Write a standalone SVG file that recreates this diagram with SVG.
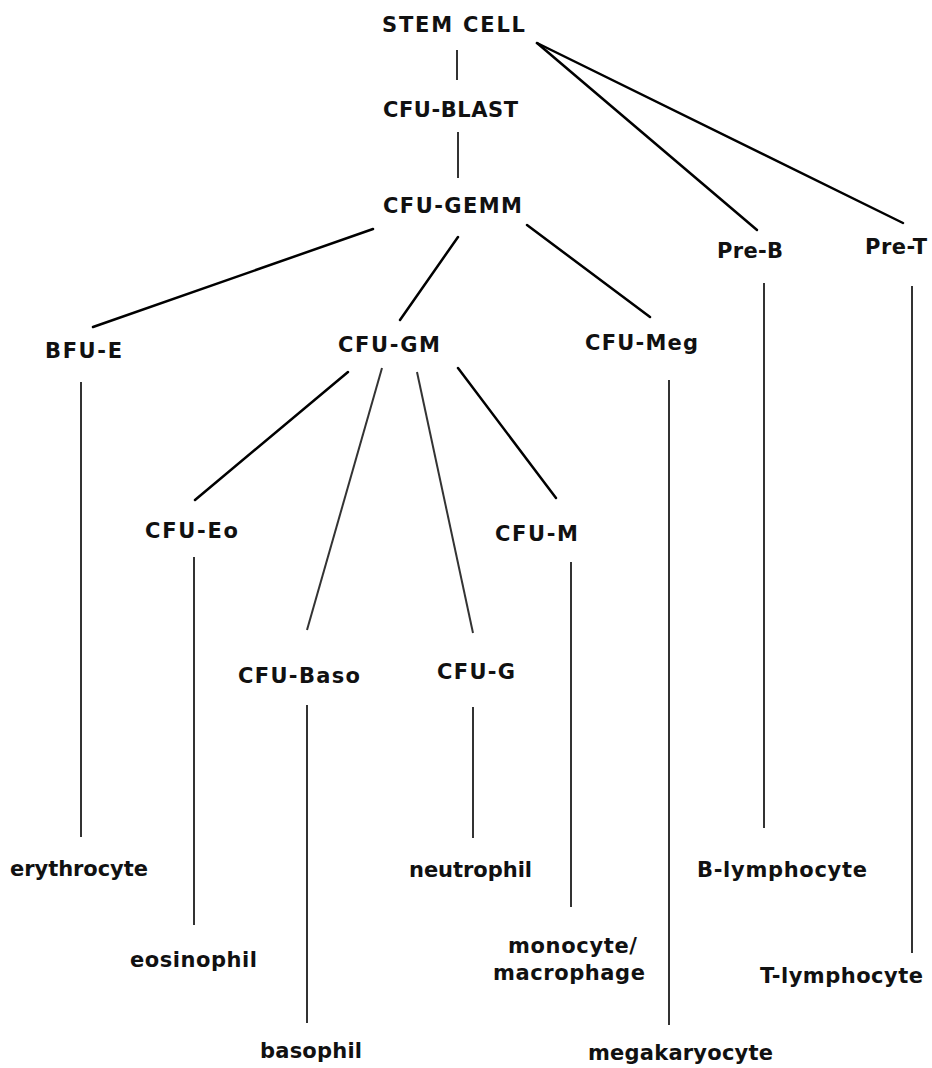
<svg xmlns="http://www.w3.org/2000/svg" width="932" height="1068" viewBox="0 0 932 1068">
<style>
text{font-family:"DejaVu Sans",Verdana,sans-serif;font-weight:bold;font-size:21px;fill:#111;text-anchor:middle}
.d{stroke:#000;stroke-width:2.5;fill:none;stroke-linecap:round}
.v{stroke:#333;stroke-width:2;fill:none}
</style>
<rect width="932" height="1068" fill="#fff"/>
<g id="connectors">
<line class="v" x1="457" y1="50" x2="457" y2="80"/>
<line class="v" x1="458" y1="132" x2="458" y2="178"/>
<line class="d" x1="537" y1="43" x2="757" y2="230"/>
<line class="d" x1="537" y1="43" x2="903" y2="223"/>
<line class="d" x1="373" y1="229" x2="93" y2="327"/>
<line class="d" x1="458" y1="237" x2="400" y2="320"/>
<line class="d" x1="527" y1="225" x2="650" y2="317"/>
<line class="v" x1="81" y1="382" x2="81" y2="837"/>
<line class="d" x1="348" y1="372" x2="195" y2="500"/>
<line class="v" x1="382" y1="368" x2="307" y2="630"/>
<line class="v" x1="417" y1="372" x2="473" y2="633"/>
<line class="d" x1="458" y1="368" x2="556" y2="498"/>
<line class="v" x1="194" y1="557" x2="194" y2="925"/>
<line class="v" x1="571" y1="562" x2="571" y2="907"/>
<line class="v" x1="307" y1="705" x2="307" y2="1023"/>
<line class="v" x1="473" y1="707" x2="473" y2="838"/>
<line class="v" x1="669" y1="380" x2="669" y2="1025"/>
<line class="v" x1="764" y1="283" x2="764" y2="828"/>
<line class="v" x1="912" y1="286" x2="912" y2="953"/>
</g>
<g id="stem-cell"><text x="453.5" y="32" textLength="143">STEM CELL</text></g>
<g id="cfu-blast"><text x="450.5" y="117" textLength="135">CFU-BLAST</text></g>
<g id="cfu-gemm"><text x="452.5" y="213" textLength="139">CFU-GEMM</text></g>
<g id="bfu-e"><text x="83.5" y="358" textLength="77">BFU-E</text></g>
<g id="cfu-gm"><text x="389" y="352" textLength="102">CFU-GM</text></g>
<g id="cfu-meg"><text x="641.5" y="350" textLength="113">CFU-Meg</text></g>
<g id="pre-b"><text x="750" y="258" textLength="66">Pre-B</text></g>
<g id="pre-t"><text x="896" y="254" textLength="62">Pre-T</text></g>
<g id="cfu-eo"><text x="191.5" y="538" textLength="93">CFU-Eo</text></g>
<g id="cfu-m"><text x="536.5" y="541" textLength="83">CFU-M</text></g>
<g id="cfu-baso"><text x="299" y="683" textLength="122">CFU-Baso</text></g>
<g id="cfu-g"><text x="476" y="679" textLength="78">CFU-G</text></g>
<g id="erythrocyte"><text x="79" y="876" textLength="138">erythrocyte</text></g>
<g id="eosinophil"><text x="193.5" y="967" textLength="127">eosinophil</text></g>
<g id="basophil"><text x="311" y="1058" textLength="102">basophil</text></g>
<g id="neutrophil"><text x="470.5" y="877" textLength="123">neutrophil</text></g>
<g id="monocyte-macrophage"><text x="572.5" y="953" textLength="129">monocyte/</text><text x="569" y="980" textLength="152">macrophage</text></g>
<g id="megakaryocyte"><text x="680.5" y="1060" textLength="185">megakaryocyte</text></g>
<g id="b-lymphocyte"><text x="782" y="877" textLength="170">B-lymphocyte</text></g>
<g id="t-lymphocyte"><text x="841.5" y="983" textLength="163">T-lymphocyte</text></g>
</svg>
